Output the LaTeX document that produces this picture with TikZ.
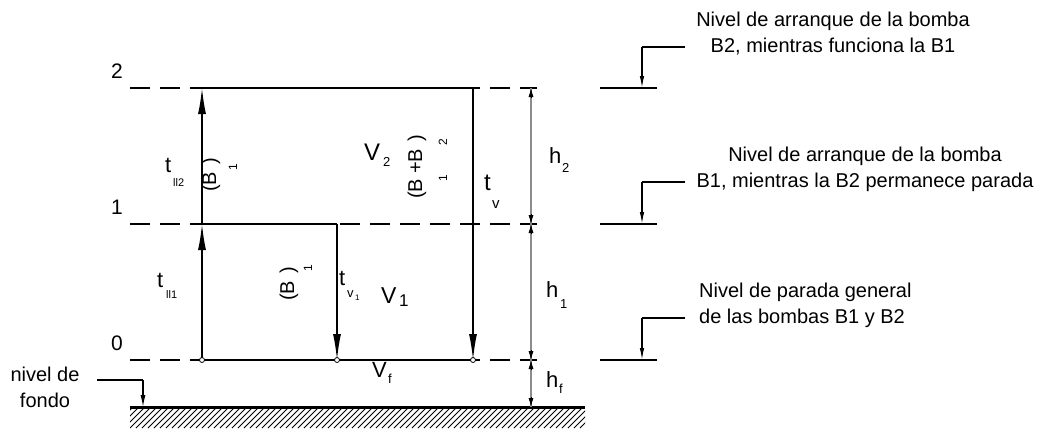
\documentclass[tikz,border=0pt]{standalone}
\usepackage{fontspec}
\setmainfont{Liberation Sans}
\usetikzlibrary{arrows.meta,calc}
\newcommand{\fsz}[1]{\fontsize{#1}{#1}\selectfont}
\begin{document}
\begin{tikzpicture}[x=1pt,y=-1pt,
  levelline/.style={line width=1.1pt,dash pattern=on 20pt off 10pt},
  solidline/.style={line width=1.4pt},
  flowarrow/.style={solidline,-{Latex[length=26pt,width=8pt]}},
  dimline/.style={line width=2pt,draw=black!45},
  dimtip/.style={line width=0.8pt,-{Latex[length=9pt,width=5pt]}},
  leader/.style={line width=1.2pt},
  leadtip/.style={line width=1.2pt,-{Latex[length=12pt,width=4.5pt]}},
  desc/.style={font=\fontsize{20}{25.5}\selectfont,inner sep=0pt,anchor=base},
  lab/.style={inner sep=0pt,anchor=base west},
  rlab/.style={inner sep=0pt,rotate=90,font=\fsz{20}},
  dot/.style={circle,draw,fill=white,line width=0.8pt,inner sep=0pt,minimum size=5pt}
]
\useasboundingbox (0,0) rectangle (1043,432);
% key points
\coordinate (L0) at (202,360); \coordinate (L1) at (202,224); \coordinate (L2) at (202,88);
\coordinate (R2) at (473,88);  \coordinate (R0) at (473,360);
\coordinate (M1) at (337,224); \coordinate (M0) at (337,360);
\coordinate (D2) at (531,88);  \coordinate (D1) at (531,224);
\coordinate (D0) at (531,360); \coordinate (DG) at (531,407);
% dashed level lines
\foreach \y/\n in {88/2,224/1,360/0}{
  \coordinate (dl\n) at (130,\y); \coordinate (dr\n) at (537,\y);
  \draw[levelline] (dl\n) -- (dr\n);
}
% ground
\coordinate (G1) at (130,407); \coordinate (G2) at (585,407);
\begin{scope}
  \clip (130,407) rectangle (585,428);
  \foreach \x in {100,106,...,600} \draw[line width=1pt] (\x,428) -- ++(21,-21);
\end{scope}
\draw[line width=3pt] (G1) -- (G2);
% solid lines
\draw[solidline] (L2) -- (R2);
\draw[solidline] (L1) -- (M1);
\draw[solidline] (L0) -- (R0);
\draw[flowarrow] (L0) -- (L1);
\draw[flowarrow] (L1) -- (L2);
\draw[flowarrow] (M1) -- (M0);
\draw[flowarrow] (R2) -- (R0);
\node[dot] (c0) at (L0) {};
\node[dot] (c1) at (M0) {};
\node[dot] (c2) at (R0) {};
% dimension line
\draw[dimline] (D2) -- (DG);
\draw[dimtip] ($(D2)+(0,10)$) coordinate (a1) -- (D2);
\draw[dimtip] ($(D1)+(0,-10)$) coordinate (a2) -- (D1);
\draw[dimtip] ($(D1)+(0,10)$) coordinate (a3) -- (D1);
\draw[dimtip] ($(D0)+(0,-10)$) coordinate (a4) -- (D0);
\draw[dimtip] ($(D0)+(0,10)$) coordinate (a5) -- (D0);
\draw[dimtip] ($(DG)+(0,-10)$) coordinate (a6) -- (DG);
% level numbers
\node[inner sep=0pt,anchor=base,font=\fsz{21}] (n2) at (117,78) {2};
\node[inner sep=0pt,anchor=base,font=\fsz{21}] (n1) at (117,214) {1};
\node[inner sep=0pt,anchor=base,font=\fsz{21}] (n0) at (117,350) {0};
% labels
\node[lab,font=\fsz{22}] (tll2) at (165,172) {t};
\node[lab,font=\fsz{11}] (tll2s) at (173,186) {ll2};
\node[lab,font=\fsz{22}] (tll1) at (157,287) {t};
\node[lab,font=\fsz{11}] (tll1s) at (166,298) {ll1};
\node[rlab] (b1a) at (211,175) {(B\hspace{7pt})};
\node[rlab,font=\fsz{12}] (b1as) at (233,167) {1};
\node[rlab] (b1b) at (289,284) {(B\hspace{7pt})};
\node[rlab,font=\fsz{12}] (b1bs) at (308,268) {1};
\node[rlab] (b12) at (417,167) {(B\hspace{5pt}+B\hspace{7pt})};
\node[rlab,font=\fsz{12}] (b12s1) at (443,178) {1};
\node[rlab,font=\fsz{12}] (b12s2) at (443,142) {2};
\node[lab,font=\fsz{24}] (V2) at (364,160) {V};
\node[lab,font=\fsz{13}] (V2s) at (383,166) {2};
\node[lab,font=\fsz{23}] (V1) at (381,303) {V};
\node[lab,font=\fsz{17}] (V1s) at (399,306) {1};
\node[lab,font=\fsz{22}] (Vf) at (372,377) {V};
\node[lab,font=\fsz{13}] (Vfs) at (388,383) {f};
\node[lab,font=\fsz{24}] (tv) at (484,190) {t};
\node[lab,font=\fsz{15}] (tvs) at (492,208) {v};
\node[lab,font=\fsz{22}] (tv1) at (339,285) {t};
\node[lab,font=\fsz{13}] (tv1s) at (347,297) {v};
\node[lab,font=\fsz{8}] (tv1ss) at (355,300) {1};
\node[lab,font=\fsz{22}] (h2) at (549,163) {h};
\node[lab,font=\fsz{13}] (h2s) at (562,172) {2};
\node[lab,font=\fsz{22}] (h1) at (546,297) {h};
\node[lab,font=\fsz{13}] (h1s) at (560,308) {1};
\node[lab,font=\fsz{22}] (hf) at (546,387) {h};
\node[lab,font=\fsz{13}] (hfs) at (559,393) {f};
% level markers
\foreach \y/\t/\n in {88/47/a,224/182/b,360/318/c}{
  \coordinate (ml\n) at (600,\y); \coordinate (mr\n) at (657,\y);
  \coordinate (mt\n) at (685,\t); \coordinate (mc\n) at (642,\t);
  \coordinate (mb\n) at (642,\y);
  \draw[leader] (ml\n) -- (mr\n);
  \draw[leader] (mt\n) -- (mc\n);
  \draw[leadtip] (mc\n) -- (mb\n);
}
\node[desc,align=center] (d1) at (833,52) {Nivel de arranque de la bomba\\B2, mientras funciona la B1};
\node[desc,align=center] (d2) at (865,187) {Nivel de arranque de la bomba\\B1, mientras la B2 permanece parada};
\node[desc,align=left,anchor=base west] (d3) at (699,323) {Nivel de parada general\\de las bombas B1 y B2};
% nivel de fondo
\node[desc,align=center] (fondo) at (45,407) {nivel de\\fondo};
\coordinate (f1) at (97,380); \coordinate (f2) at (143,380); \coordinate (f3) at (143,407);
\draw[leader] (f1) -- (f2);
\draw[leader,-{Latex[length=12pt,width=5pt]}] (f2) -- (f3);
\end{tikzpicture}
\end{document}
